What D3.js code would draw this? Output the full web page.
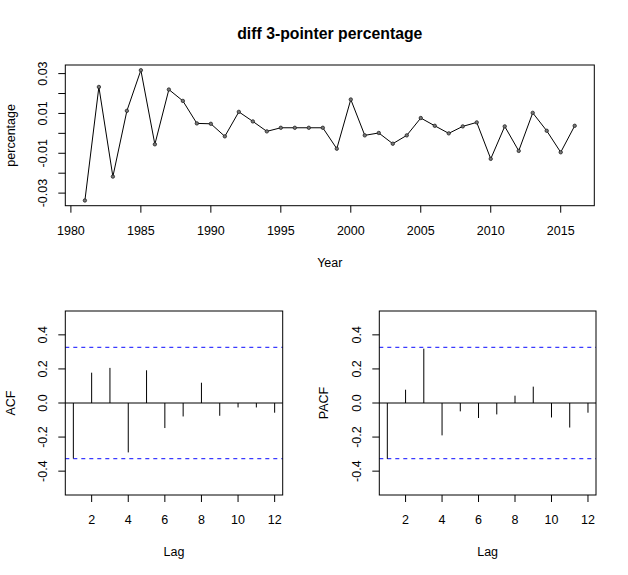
<!DOCTYPE html>
<html><head><meta charset="utf-8">
<script src="https://cdn.jsdelivr.net/npm/d3@7/dist/d3.min.js"></script>
<style>body{margin:0;background:#fff}svg{display:block}text{font-family:"Liberation Sans",Arial,Helvetica,sans-serif;fill:#000}</style>
</head><body>
<script>
const years = d3.range(1981, 2017);
const pct = [-0.0337,0.0233,-0.0217,0.0113,0.0317,-0.0055,0.0220,0.0163,0.0050,0.0048,
  -0.0015,0.0108,0.0060,0.0010,0.0028,0.0028,0.0028,0.0028,-0.0077,0.0170,
  -0.0010,0.0002,-0.0052,-0.0010,0.0077,0.0038,0.0000,0.0035,0.0055,-0.0128,
  0.0035,-0.0088,0.0103,0.0013,-0.0095,0.0038];
const lags = d3.range(1, 13);
const acfVals = [-0.326,0.178,0.206,-0.290,0.192,-0.147,-0.079,0.119,-0.075,-0.026,-0.026,-0.057];
const pacfVals = [-0.328,0.078,0.319,-0.190,-0.049,-0.088,-0.067,0.043,0.096,-0.085,-0.144,-0.057];
const yearTicks = [1980,1985,1990,1995,2000,2005,2010,2015];
const pctTicks = [-0.03,-0.02,-0.01,0,0.01,0.02,0.03];
const pctLabels = [-0.03,-0.01,0.01,0.03];
const lagTicks = [2,4,6,8,10,12];
const corTicks = [-0.4,-0.2,0,0.2,0.4];
const nObs = 36;
const ci = 1.96/Math.sqrt(nObs);

const W=628,H=575,FS=12.5;
const svg=d3.select("body").append("svg").attr("width",W).attr("height",H);

function pad(a,b){const d=(b-a)*0.04;return [a-d,b+d];}

function frame(g,x0,x1,y0,y1){
  g.append("rect").attr("x",x0).attr("y",y0).attr("width",x1-x0).attr("height",y1-y0)
   .attr("fill","none").attr("stroke","#000").attr("stroke-width",1);
}
function xAxis(g,x,ticks,y1,fmt){
  ticks.forEach(t=>{
    g.append("line").attr("x1",x(t)).attr("x2",x(t)).attr("y1",y1).attr("y2",y1+7).attr("stroke","#000");
    g.append("text").attr("x",x(t)).attr("y",y1+24.5+4.5).attr("text-anchor","middle").attr("font-size",FS).text(fmt(t));
  });
}
function yAxis(g,y,ticks,labels,x0,fmt){
  ticks.forEach(t=>{
    g.append("line").attr("x1",x0-7).attr("x2",x0).attr("y1",y(t)).attr("y2",y(t)).attr("stroke","#000");
  });
  labels.forEach(t=>{
    const cx=x0-22.5, cy=y(t);
    g.append("text").attr("transform",`translate(${cx},${cy}) rotate(-90)`).attr("dy","0.36em")
     .attr("text-anchor","middle").attr("font-size",FS).text(fmt(t));
  });
}
function yTitle(cx,cy,txt){
  svg.append("text").attr("transform",`translate(${cx},${cy}) rotate(-90)`).attr("dy","0.36em")
   .attr("text-anchor","middle").attr("font-size",FS).text(txt);
}
function xTitle(cx,cy,txt){
  svg.append("text").attr("x",cx).attr("y",cy+4.5).attr("text-anchor","middle").attr("font-size",FS).text(txt);
}

// ---- top panel ----
{
  const L=65.3,R=594.3,T=65,B=205.7;
  const x=d3.scaleLinear().domain(pad(d3.min(years),d3.max(years))).range([L,R]);
  const ext=d3.extent(pct);
  const y=d3.scaleLinear().domain(pad(ext[0],ext[1])).range([B,T]);
  const g=svg.append("g");
  const line=d3.line().x((d,i)=>x(years[i])).y(d=>y(d));
  g.append("path").attr("d",line(pct)).attr("fill","none").attr("stroke","#000").attr("stroke-width",1);
  g.selectAll("circle").data(pct).join("circle").attr("cx",(d,i)=>x(years[i])).attr("cy",d=>y(d))
   .attr("r",1.7).attr("fill","#777").attr("stroke","#222").attr("stroke-width",0.8);
  frame(g,L,R,T,B);
  xAxis(g,x,yearTicks,B,d=>String(d));
  yAxis(g,y,pctTicks,pctLabels,L,d=>d.toFixed(2));
  svg.append("text").attr("x",(L+R)/2).attr("y",38.5).attr("text-anchor","middle")
   .attr("font-size",15.8).attr("font-weight","bold").text("diff 3-pointer percentage");
  xTitle((L+R)/2,262,"Year");
  yTitle(10,(T+B)/2,"percentage");
}

// ---- correlogram panels ----
function corr(L,R,vals,label,titleX){
  const T=311,B=495;
  const x=d3.scaleLinear().domain(pad(1,12)).range([L,R]);
  const y=d3.scaleLinear().domain(pad(-0.5,0.5)).range([B,T]);
  const g=svg.append("g");
  g.append("line").attr("x1",L).attr("x2",R).attr("y1",y(0)).attr("y2",y(0)).attr("stroke","#000");
  [ci,-ci].forEach(c=>{
    g.append("line").attr("x1",L).attr("x2",R).attr("y1",y(c)).attr("y2",y(c))
     .attr("stroke","#3b3bff").attr("stroke-width",1.1).attr("stroke-dasharray","4,4");
  });
  g.selectAll("line.bar").data(vals).join("line").attr("class","bar")
   .attr("x1",(d,i)=>x(lags[i])).attr("x2",(d,i)=>x(lags[i]))
   .attr("y1",y(0)).attr("y2",d=>y(d)).attr("stroke","#000").attr("stroke-width",1);
  frame(g,L,R,T,B);
  xAxis(g,x,lagTicks,B,d=>String(d));
  yAxis(g,y,corTicks,corTicks,L,d=>d.toFixed(1));
  xTitle((L+R)/2,551.7,"Lag");
  yTitle(titleX,(T+B)/2,label);
}
corr(65.3,282.7,acfVals,"ACF",10);
corr(379.3,596,pacfVals,"PACF",323.5);
</script>
</body></html>
